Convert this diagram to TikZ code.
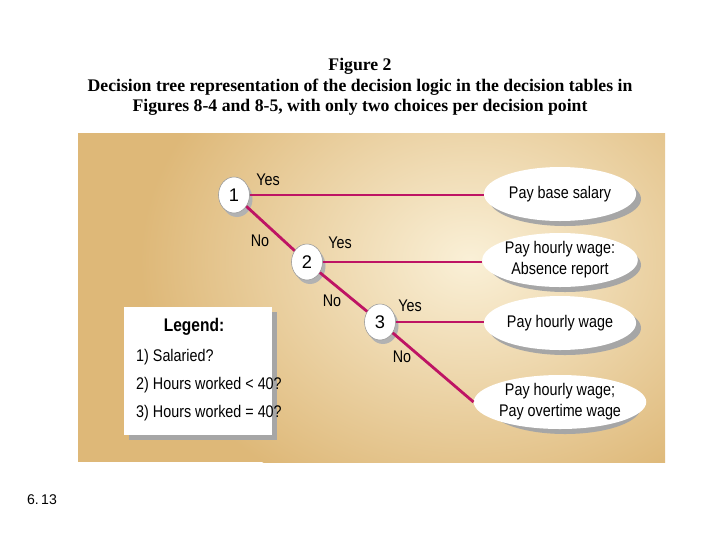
\documentclass[tikz,border=0pt]{standalone}
\usepackage{fontspec}
\setmainfont{Liberation Serif}
\setsansfont{Liberation Sans}
\usetikzlibrary{shapes.geometric}
\definecolor{wirecol}{RGB}{190,20,100}
\definecolor{tanout}{RGB}{222,184,120}
\definecolor{tanin}{RGB}{250,240,215}
\newlength\unitpx
\setlength\unitpx{0.025cm}
\tikzset{
  choice/.style = {draw = black!40, fill = white, ellipse, minimum width = 31\unitpx, minimum height = 36\unitpx, inner sep = 0, font = \sffamily\fontsize{13}{13}\selectfont},
  outcome/.style = {fill = white, ellipse, xscale = .85, minimum width = 179\unitpx, minimum height = 54\unitpx, inner sep = 0, align = center, font = \sffamily\fontsize{12}{15}\selectfont},
  lbl/.style = {xscale = .85, font = \sffamily\fontsize{12}{12}\selectfont},
  wire/.style = {wirecol, line width = 2pt}
}
\begin{document}
\begin{tikzpicture}[x = 0.025cm, y = -0.025cm]
 \useasboundingbox (0, 0) rectangle (720, 540);
 % title
 \node[align = center, font = \bfseries\fontsize{12.6}{14.5}\selectfont] (title) at (360, 87)
   {Figure 2\\Decision tree representation of the decision logic in the decision tables in\\Figures 8-4 and 8-5, with only two choices per decision point};
 % panel
 \begin{scope}
  \clip (78, 133) rectangle (665, 462);
  \fill[tanout] (78, 133) rectangle (665, 462);
  \shade[inner color = tanin, outer color = tanout] (470, 260) ellipse (330 and 260);
 \end{scope}
 % outcomes
 \foreach \y/\txt [count = \i] in {194/Pay base salary, 260/Pay hourly wage:\\Absence report, 323/Pay hourly wage, 402/Pay hourly wage;\\Pay overtime wage} {
   \fill[black!35] (565, \y + 5) ellipse (76 and 27);
   \node[outcome] (o\i) at (560, \y) {\txt};
 }
 % choices
 \foreach \x/\y [count = \i] in {234/195, 307/262, 380/322} {
   \fill[black!30] (\x + 3, \y + 4) ellipse (15.5 and 18);
   \node[choice] (c\i) at (\x, \y) {\i};
 }
 \draw[wire] (c1) -- (o1.west |- c1);
 \draw[wire] (c1) -- (c2);
 \draw[wire] (c2) -- (o2.west |- c2);
 \draw[wire] (c2) -- (c3);
 \draw[wire] (c3) -- (o3.west |- c3);
 \draw[wire] (c3) -- (o4.west);
 \node[lbl] (y1) at (268, 180) {Yes};
 \node[lbl] (n1) at (260, 241) {No};
 \node[lbl] (y2) at (340, 243) {Yes};
 \node[lbl] (n2) at (332, 301) {No};
 \node[lbl] (y3) at (410, 306) {Yes};
 \node[lbl] (n3) at (402, 357) {No};
 % legend
 \fill[black!35] (129, 312) rectangle (277, 440);
 \fill[white] (124, 307) rectangle (272, 435);
 \node[xscale = .85, font = \sffamily\bfseries\fontsize{13}{13}\selectfont] (leg) at (194, 327) {Legend:};
 \node[lbl, anchor = west, align = left, font = \sffamily\fontsize{12}{20}\selectfont] (legtxt) at (132, 385)
   {1)\ Salaried?\\2)\ Hours worked < 40?\\3)\ Hours worked = 40?};
 \node[font = \sffamily\fontsize{10}{10}\selectfont] (pg) at (42, 500) {6.\,13};
\end{tikzpicture}
\end{document}
